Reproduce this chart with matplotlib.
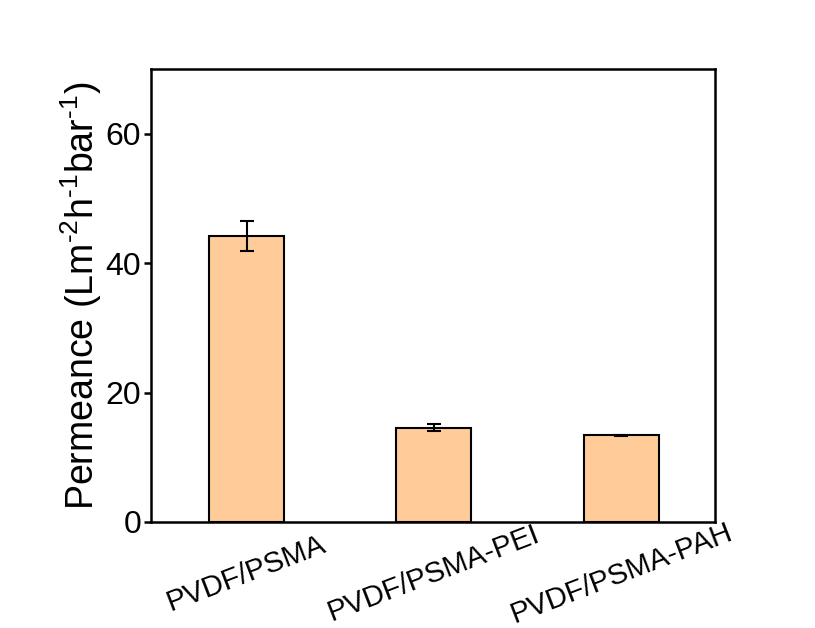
import matplotlib
matplotlib.use("Agg")
import matplotlib.pyplot as plt

categories = ["PVDF/PSMA", "PVDF/PSMA-PEI", "PVDF/PSMA-PAH"]
values = [44.2, 14.6, 13.4]
errors = [2.3, 0.5, 0.1]
yticks = [0, 20, 40, 60]

plt.rcParams['font.family'] = ['Liberation Sans', 'DejaVu Sans']
plt.rcParams['mathtext.fontset'] = 'custom'
plt.rcParams['mathtext.rm'] = 'Liberation Sans'

fig = plt.figure(figsize=(8.15, 6.28), dpi=100)
ax = fig.add_axes([0.1853, 0.1688, 0.6920, 0.7212])

x = list(range(len(categories)))
ax.bar(x, values, width=0.4, color='#FFCC99', edgecolor='black', linewidth=1.5,
       yerr=errors, capsize=5, error_kw=dict(elinewidth=1.5, capthick=1.5, ecolor='black'),
       zorder=2)

ax.set_xlim(-0.51, 2.5)
ax.set_ylim(0, 70)
ax.set_yticks(yticks)
ax.set_xticks(x)
ax.set_xticklabels(categories, rotation=21, ha='center', va='center', fontsize=21)
ax.tick_params(axis='y', direction='out', length=5, width=1.8, labelsize=23, pad=2)
ax.tick_params(axis='x', direction='in', length=7, width=1.8, pad=37)

for s in ax.spines.values():
    s.set_linewidth(1.8)

ax.set_ylabel(r'Permeance (Lm$^{\text{-2}}$h$^{\text{-1}}$bar$^{\text{-1}}$)',
              fontsize=27, labelpad=1)

fig.savefig('out.png', dpi=100)
